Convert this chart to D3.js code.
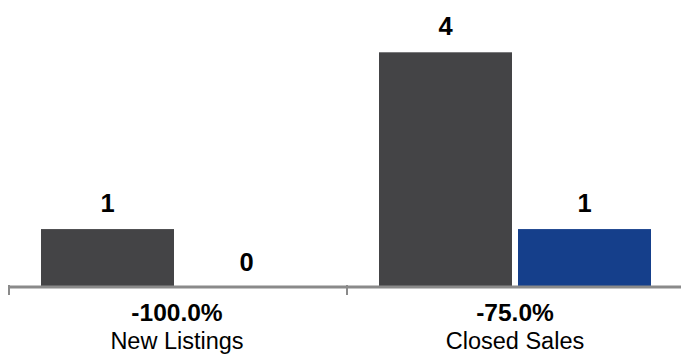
<!DOCTYPE html>
<html>
<head>
<meta charset="utf-8">
<script src="https://cdn.jsdelivr.net/npm/d3@7"></script>
<style>
  html, body { margin: 0; padding: 0; background: #fff; }
  svg { display: block; font-family: "Liberation Sans", Arial, Helvetica, sans-serif; }
</style>
</head>
<body>
<svg id="chart" width="681" height="354"></svg>
<script>
// Chart data
const categories = ["New Listings", "Closed Sales"];
const series = ["prior", "current"];
const priorValues = [1, 4];
const currentValues = [0, 1];
const changeLabels = ["-100.0%", "-75.0%"];
const seriesColors = ["#444446", "#153f8b"];

const svg = d3.select("#chart");

const baseY = 288;
const x0 = d3.scaleBand().domain(categories).range([8, 684]).paddingInner(0).paddingOuter(0);
const x1 = d3.scaleBand().domain(series).range([0, x0.bandwidth()])
  .paddingInner(6 / 139).paddingOuter(33 / 139);
const y = d3.scaleLinear().domain([0, 4]).range([baseY, 52.3]);

const rows = categories.map((c, i) => ({
  category: c,
  change: changeLabels[i],
  values: [priorValues[i], currentValues[i]]
}));

const groups = svg.selectAll("g.group").data(rows).join("g")
  .attr("class", "group")
  .attr("transform", d => `translate(${x0(d.category)},0)`);

// Bars
groups.selectAll("rect").data(d => d.values.map((v, j) => ({ key: series[j], value: v, j })))
  .join("rect")
  .attr("x", d => x1(d.key))
  .attr("y", d => y(d.value))
  .attr("width", x1.bandwidth())
  .attr("height", d => baseY - y(d.value))
  .attr("fill", d => seriesColors[d.j]);

// Value labels above bars
groups.selectAll("text.value").data(d => d.values.map((v, j) => ({ key: series[j], value: v })))
  .join("text")
  .attr("class", "value")
  .attr("x", d => x1(d.key) + x1.bandwidth() / 2)
  .attr("y", d => y(d.value) - 17)
  .attr("text-anchor", "middle")
  .attr("font-size", 25.5)
  .attr("font-weight", "bold")
  .attr("fill", "#000")
  .text(d => d3.format("d")(d.value));

// Baseline axis with group separators
const axis = d3.axisBottom(x0).tickSize(0).tickFormat("");
const axisG = svg.append("g").attr("transform", `translate(0,${baseY - 1.5})`).call(axis);
axisG.select(".domain").attr("stroke", "#8a8a8a").attr("stroke-width", 3);
const edges = categories.map(c => x0(c)).concat([x0.range()[1]]);
svg.append("g").selectAll("line").data(edges).join("line")
  .attr("x1", d => d + 1).attr("x2", d => d + 1)
  .attr("y1", baseY - 3).attr("y2", baseY + 7)
  .attr("stroke", "#8a8a8a").attr("stroke-width", 2);

// Category labels: percent change and name
groups.append("text")
  .attr("x", x0.bandwidth() / 2)
  .attr("y", 321)
  .attr("text-anchor", "middle")
  .attr("font-size", 24.5)
  .attr("font-weight", "bold")
  .attr("fill", "#000")
  .text(d => d.change);

groups.append("text")
  .attr("x", x0.bandwidth() / 2)
  .attr("y", 349)
  .attr("text-anchor", "middle")
  .attr("font-size", 23.5)
  .attr("fill", "#000")
  .text(d => d.category);
</script>
</body>
</html>
